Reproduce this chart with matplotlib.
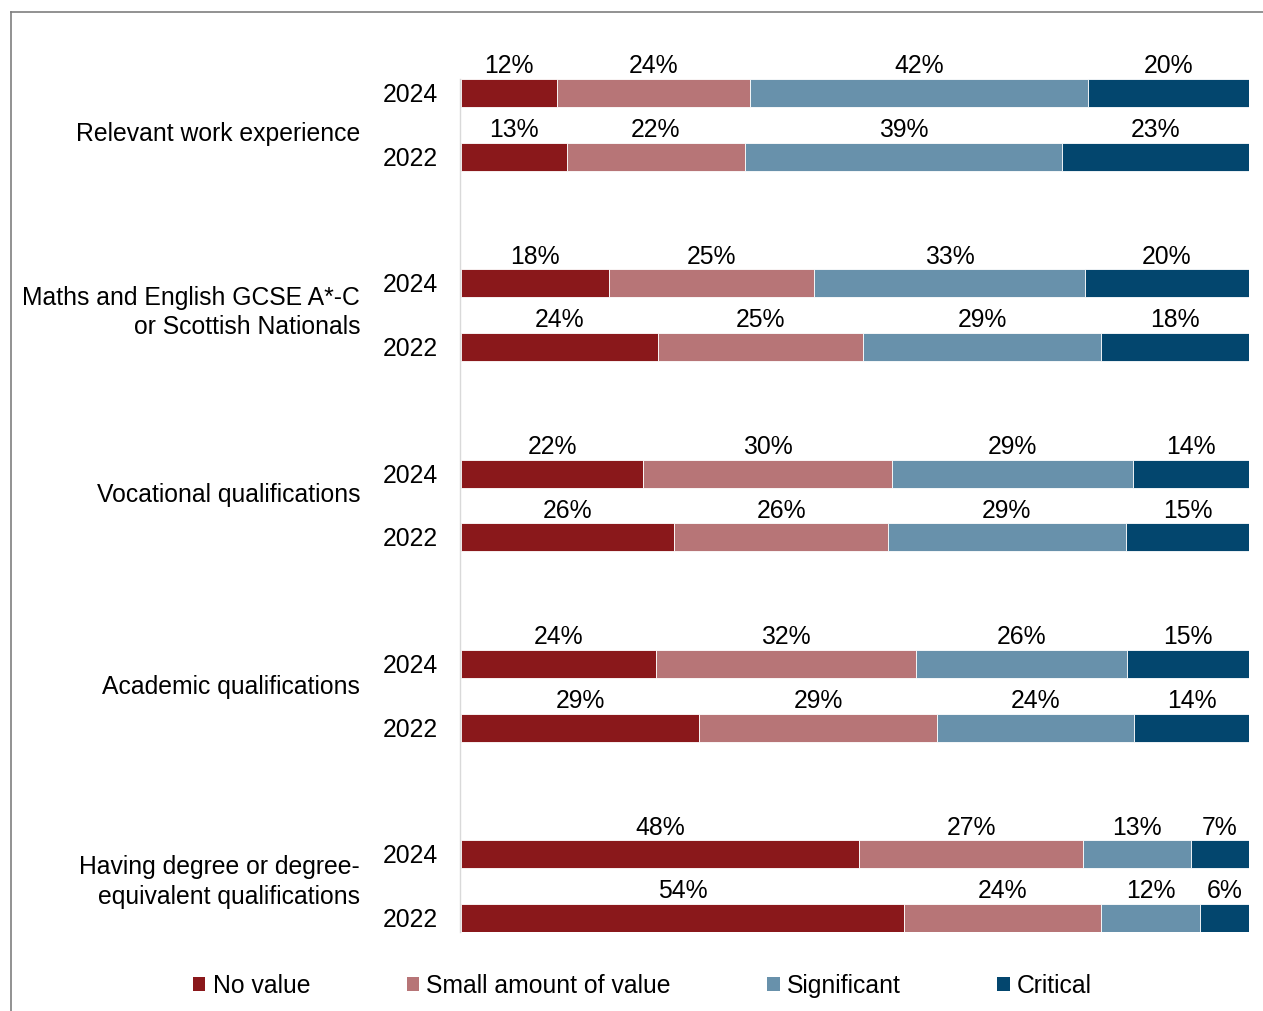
import matplotlib
matplotlib.use("Agg")
import matplotlib.pyplot as plt
import numpy as np
from matplotlib.patches import Patch
from matplotlib.lines import Line2D

plt.rcParams['font.family'] = ['Liberation Sans', 'DejaVu Sans']

categories = [
    "Relevant work experience",
    "Maths and English GCSE A*-C\nor Scottish Nationals",
    "Vocational qualifications",
    "Academic qualifications",
    "Having degree or degree-\nequivalent qualifications",
]
years = ["2024", "2022"]
series_names = ["No value", "Small amount of value", "Significant", "Critical"]

no_value_2024 = [12, 18, 22, 24, 48]
no_value_2022 = [13, 24, 26, 29, 54]
small_2024 = [24, 25, 30, 32, 27]
small_2022 = [22, 25, 26, 29, 24]
significant_2024 = [42, 33, 29, 26, 13]
significant_2022 = [39, 29, 29, 24, 12]
critical_2024 = [20, 20, 14, 15, 7]
critical_2022 = [23, 18, 15, 14, 6]

colors = ["#8A181B", "#B77577", "#6891AB", "#03466E"]
FS = 17.8

W, H = 1263, 1011
fig = plt.figure(figsize=(W / 100, H / 100), dpi=100)

# pixel layout helpers
def fx(px):
    return px / W

def fy(py):
    return 1 - py / H

ax_left, ax_right = 461, 1249
ax_top, ax_bottom = 79, 932
ax = fig.add_axes([fx(ax_left), fy(ax_bottom), fx(ax_right - ax_left), fy(ax_top) - fy(ax_bottom)])

group_step = 1.0
year_offset = 63.5 / 190
bar_h = 28 / 190

data = {
    "2024": [no_value_2024, small_2024, significant_2024, critical_2024],
    "2022": [no_value_2022, small_2022, significant_2022, critical_2022],
}

for yi, yr in enumerate(years):
    vals = np.array(data[yr], dtype=float)  # shape (4 series, 5 groups)
    totals = vals.sum(axis=0)
    shares = vals / totals * 100
    ypos = np.arange(len(categories)) * group_step + yi * year_offset
    left = np.zeros(len(categories))
    for si in range(len(series_names)):
        ax.barh(ypos, shares[si], left=left, height=bar_h, color=colors[si],
                edgecolor="white", linewidth=0.6)
        for gi in range(len(categories)):
            ax.text(left[gi] + shares[si][gi] / 2, ypos[gi] - bar_h / 2 - 0.003,
                    f"{int(vals[si][gi])}%", ha="center", va="bottom",
                    fontsize=FS, color="black")
        left = left + shares[si]
    for gi in range(len(categories)):
        ax.text(-2.9, ypos[gi] + 0.01, yr, ha="right", va="center", fontsize=FS,
                transform=ax.transData, clip_on=False)

# category labels, right aligned
label_offsets = [0.215, 0.155, 0.11, 0.12, 0.145]
for gi, cat in enumerate(categories):
    ax.text(-12.8, gi * group_step + label_offsets[gi], cat, ha="right", va="center",
            fontsize=FS, linespacing=1.27, clip_on=False)

ax.set_xlim(0, 100)
ax.set_ylim(4 * group_step + year_offset + bar_h / 2, -bar_h / 2)
ax.set_xticks([])
ax.set_yticks([])
for s in ["top", "right", "bottom"]:
    ax.spines[s].set_visible(False)
ax.spines["left"].set_color("#D9D9D9")
ax.spines["left"].set_linewidth(1.0)
ax.spines["left"].set_position(("outward", 1))

# legend
handles = [Patch(facecolor=c, edgecolor="none") for c in colors]
leg = fig.legend(handles, series_names, loc="center left",
                 bbox_to_anchor=(fx(193), fy(986)), ncol=4, frameon=False,
                 fontsize=FS, handlelength=0.5, handleheight=0.5,
                 handletextpad=0.3, columnspacing=3.9, borderpad=0, borderaxespad=0)

# outer frame (left and top edges)
fig.add_artist(Line2D([fx(11), fx(11)], [fy(12), 0], color="#7F7F7F", lw=1.2))
fig.add_artist(Line2D([fx(11), 1], [fy(12), fy(12)], color="#7F7F7F", lw=1.2))

fig.savefig("out.png", dpi=100, facecolor="white")
